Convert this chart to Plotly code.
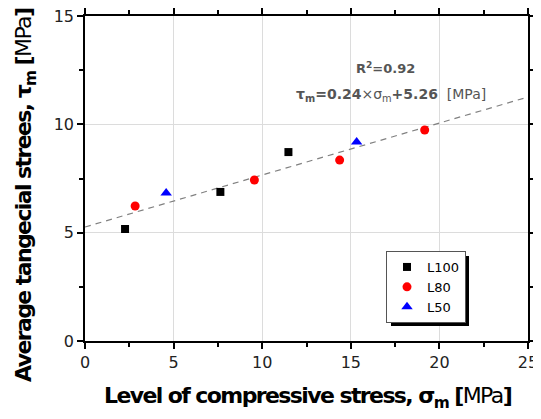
import plotly.graph_objects as go

# Data
l100_x = [2.26, 7.64, 11.48]
l100_y = [5.17, 6.88, 8.72]
l80_x = [2.83, 9.56, 14.37, 19.17]
l80_y = [6.23, 7.43, 8.35, 9.74]
l50_x = [4.58, 15.33]
l50_y = [6.83, 9.18]
fit_slope = 0.24
fit_intercept = 5.26
fit_x = [0, 25]
fit_y = [fit_slope * v + fit_intercept for v in fit_x]

x_ticks = [0, 5, 10, 15, 20, 25]
y_ticks = [0, 5, 10, 15]

FONT = "DejaVu Sans"

fig = go.Figure()
fig.add_trace(go.Scatter(x=fit_x, y=fit_y, mode="lines",
                         line=dict(color="#808080", width=1.2, dash="6px,5px"),
                         showlegend=False, hoverinfo="skip"))
fig.add_trace(go.Scatter(x=l100_x, y=l100_y, mode="markers", name="L100",
                         marker=dict(symbol="square", size=8, color="black")))
fig.add_trace(go.Scatter(x=l80_x, y=l80_y, mode="markers", name="L80",
                         marker=dict(symbol="circle", size=9, color="#ff0000")))
fig.add_trace(go.Scatter(x=l50_x, y=l50_y, mode="markers", name="L50",
                         marker=dict(symbol="triangle-up", size=10, color="#0000ff")))

# page body has an 8px margin: compensate so the plot sits where the reference does
OFF = 8
WIN_W, WIN_H = 541, 419
L, R, T, B = 85, 13, 16, 78          # in window pixels
W, H = WIN_W - OFF, WIN_H - OFF
pw, ph = WIN_W - L - R, WIN_H - T - B

def px(xp):
    return (xp - L) / pw

def py(yp):
    return (WIN_H - B - yp) / ph

axis_common = dict(
    showline=True, linecolor="black", linewidth=1.5, mirror="ticks",
    ticks="outside", ticklen=6, tickwidth=1.5, tickcolor="black",
    showgrid=True, gridcolor="#dcdcdc", gridwidth=1, zeroline=False,
    tickfont=dict(family=FONT, size=16, color="#222"),
    automargin=False, ticklabeloverflow="allow",
    minor=dict(ticks="outside", ticklen=4, tickwidth=1.5, tickcolor="black", showgrid=False),
)

fig.update_layout(
    width=W, height=H,
    margin=dict(l=L - OFF, r=R, t=T - OFF, b=B),
    paper_bgcolor="white", plot_bgcolor="white",
    font=dict(family=FONT, color="black"),
    xaxis=dict(range=[0, 25], tickvals=x_ticks, **axis_common),
    yaxis=dict(range=[0, 15], tickvals=y_ticks, **axis_common),
    legend=dict(x=px(386), y=py(251), xanchor="left", yanchor="top",
                bgcolor="white", bordercolor="#555", borderwidth=1,
                font=dict(family=FONT, size=13, color="black"),
                tracegroupgap=0, itemwidth=30),
    showlegend=True,
)
fig.update_xaxes(minor=dict(dtick=2.5, tick0=0))
fig.update_yaxes(minor=dict(dtick=2.5, tick0=0))

SP = "letter-spacing:-1.6px"
# axis titles
fig.add_annotation(x=px(308), y=py(397), xref="paper", yref="paper", showarrow=False,
                   xanchor="center", yanchor="middle",
                   text=f"<span style='{SP}'><b>Level of compressive stress, σ<sub>m</sub> [</b>MPa<b>]</b></span>",
                   font=dict(family=FONT, size=22, color="black"))
fig.add_annotation(x=px(25), y=py(195), xref="paper", yref="paper", showarrow=False,
                   xanchor="center", yanchor="middle", textangle=-90,
                   text=f"<span style='{SP}'><b>Average tangecial strees, τ<sub>m</sub> [</b>MPa<b>]</b></span>",
                   font=dict(family=FONT, size=22, color="black"))

# legend shadow
fig.add_shape(type="rect", xref="paper", yref="paper",
              x0=px(391), x1=px(469), y0=py(326), y1=py(256),
              fillcolor="black", line=dict(width=0), layer="above")

fig.add_annotation(x=px(385), y=py(68), xref="paper", yref="paper", showarrow=False,
                   xanchor="center", yanchor="middle",
                   text="<b>R<sup>2</sup>=0.92</b>",
                   font=dict(family=FONT, size=13, color="#555"))
fig.add_annotation(x=px(391), y=py(95), xref="paper", yref="paper", showarrow=False,
                   xanchor="center", yanchor="middle",
                   text="<b>τ<sub>m</sub>=0.24</b>×σ<sub>m</sub><b>+5.26</b>  [MPa]",
                   font=dict(family=FONT, size=14, color="#555"))

fig.write_html("out.html")
